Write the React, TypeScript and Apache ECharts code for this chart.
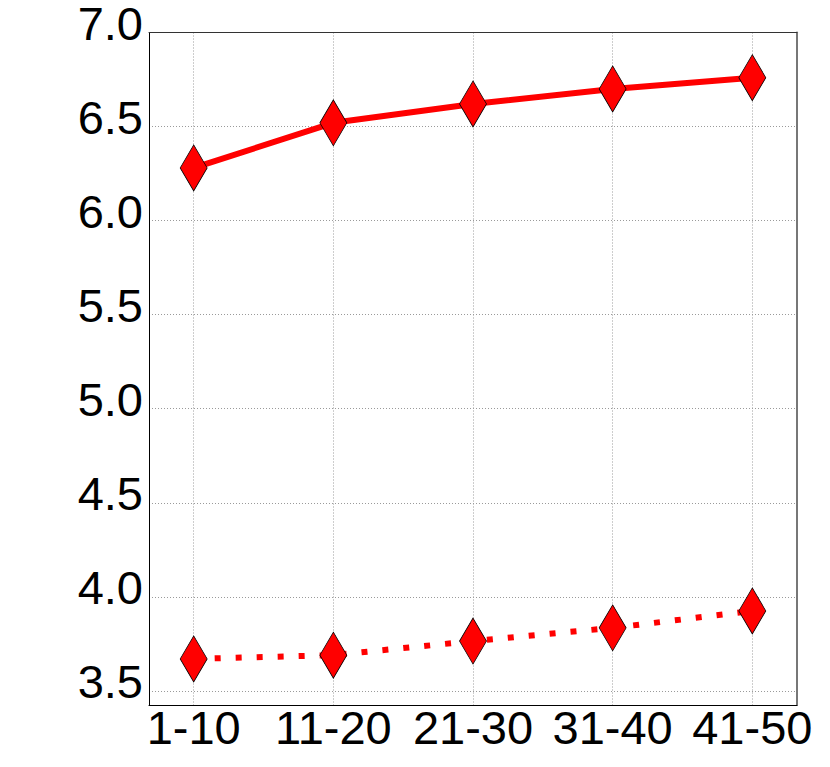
import React, { useEffect, useRef } from "react";
import * as echarts from "echarts";

const categories = ["1-10", "11-20", "21-30", "31-40", "41-50"];
const solidValues = [6.28, 6.52, 6.62, 6.70, 6.76];
const dottedValues = [3.67, 3.69, 3.765, 3.835, 3.925];
const yTicks = [3.5, 4.0, 4.5, 5.0, 5.5, 6.0, 6.5, 7.0];
const xTicks = [0, 1, 2, 3, 4];

const FONT = "Liberation Sans";

export default function App() {
  const ref = useRef<HTMLDivElement>(null);
  useEffect(() => {
    const chart = echarts.init(ref.current!, null, { renderer: "svg" });
    const gridLine = { show: true, lineStyle: { color: "#9a9a9a", width: 1, type: [1, 2] as any } };
    const marker = {
      symbol: "diamond",
      symbolSize: [27, 46],
      itemStyle: { color: "#ff0000", borderColor: "#000", borderWidth: 0.8 },
    };
    chart.setOption({
      animation: false,
      backgroundColor: "#fff",
      grid: { left: 149, top: 31, width: 648, height: 674, show: false },
      xAxis: [
        {
          type: "value",
          min: -0.32,
          max: 4.32,
          position: "bottom",
          axisLine: { show: true, onZero: false, lineStyle: { color: "#000", width: 1 } },
          axisTick: { show: false, customValues: xTicks },
          splitLine: gridLine,
          axisLabel: {
            customValues: xTicks,
            formatter: (v: number) => categories[Math.round(v)] ?? "",
            fontFamily: FONT,
            fontSize: 47,
            color: "#000",
            margin: -1,
          },
        },
        {
          type: "value",
          min: -0.32,
          max: 4.32,
          position: "top",
          axisLine: { show: true, onZero: false, lineStyle: { color: "#333", width: 1 } },
          axisTick: { show: false },
          splitLine: { show: false },
          axisLabel: { show: false },
        },
      ],
      yAxis: [
        {
          type: "value",
          min: 3.425,
          max: 7.0,
          position: "left",
          axisLine: { show: true, onZero: false, lineStyle: { color: "#000", width: 1 } },
          axisTick: { show: false, customValues: yTicks },
          splitLine: gridLine,
          axisLabel: {
            customValues: yTicks,
            formatter: (v: number) => v.toFixed(1),
            fontFamily: FONT,
            fontSize: 47,
            color: "#000",
            margin: 6,
            verticalAlign: "bottom",
            lineHeight: 18,
          },
        },
        {
          type: "value",
          min: 3.425,
          max: 7.0,
          position: "right",
          axisLine: { show: true, onZero: false, lineStyle: { color: "#777", width: 2 } },
          axisTick: { show: false },
          splitLine: { show: false },
          axisLabel: { show: false },
        },
      ],
      series: [
        {
          type: "line",
          data: solidValues.map((v, i) => [i, v]),
          lineStyle: { color: "#ff0000", width: 6 },
          ...marker,
          z: 3,
        },
        {
          type: "line",
          data: dottedValues.map((v, i) => [i, v]),
          lineStyle: { color: "#ff0000", width: 6, type: [6, 15] as any },
          ...marker,
          z: 3,
        },
      ],
    });
    return () => chart.dispose();
  }, []);
  return (
    <div
      ref={ref}
      style={{ position: "absolute", left: 0, top: 0, width: 830, height: 767 }}
    />
  );
}
